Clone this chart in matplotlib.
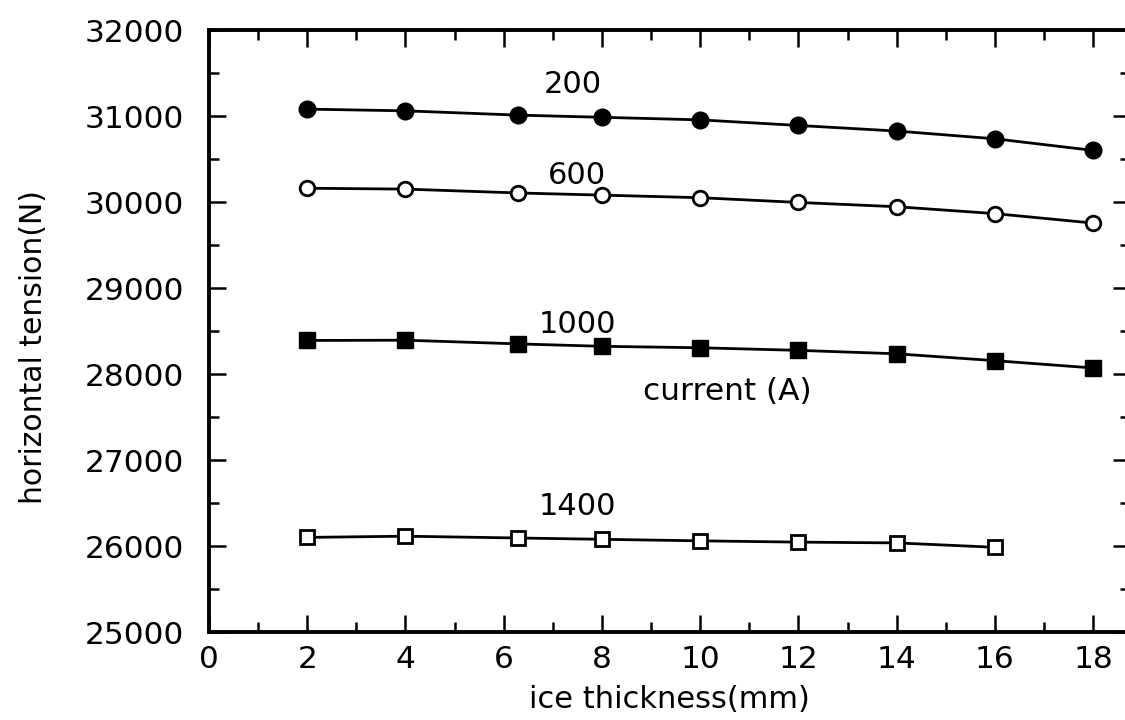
import matplotlib
matplotlib.use("Agg")
import matplotlib.pyplot as plt
from matplotlib.ticker import MultipleLocator

# ice thickness (mm) for each measured point
thickness = [2, 4, 6.3, 8, 10, 12, 14, 16, 18]
thickness_1400 = [2, 4, 6.3, 8, 10, 12, 14, 16]

# horizontal tension (N) for each conductor current
tension_200 = [31080, 31060, 31010, 30985, 30955, 30890, 30825, 30735, 30600]
tension_600 = [30160, 30150, 30105, 30080, 30050, 29995, 29945, 29865, 29755]
tension_1000 = [28390, 28393, 28350, 28322, 28305, 28275, 28235, 28155, 28070]
tension_1400 = [26100, 26114, 26093, 26078, 26060, 26045, 26036, 25985]

current_labels = ["200", "600", "1000", "1400"]
label_pos = [(7.4, 31370), (7.5, 30305), (7.5, 28570), (7.5, 26465)]

plt.rcParams["font.family"] = ["DejaVu Sans"]

fig = plt.figure(figsize=(11.25, 7.2), dpi=100)
ax = fig.add_axes([209 / 1125, 1 - 632 / 720, 921 / 1125, 602 / 720])

lw = 2.0
ax.plot(thickness, tension_200, color="black", lw=lw, marker="o",
        ms=12, mfc="black", mec="black")
ax.plot(thickness, tension_600, color="black", lw=lw, marker="o",
        ms=10.5, mfc="white", mec="black", mew=2.0)
ax.plot(thickness, tension_1000, color="black", lw=lw, marker="s",
        ms=11.5, mfc="black", mec="black")
ax.plot(thickness_1400, tension_1400, color="black", lw=lw, marker="s",
        ms=10.5, mfc="white", mec="black", mew=2.0)

for txt, (x, y) in zip(current_labels, label_pos):
    ax.text(x, y, txt, fontsize=22, ha="center", va="center")
ax.text(10.55, 27800, "current (A)", fontsize=22.5, ha="center", va="center")

ax.set_xlim(0, 18.75)
ax.set_ylim(25000, 32000)
ax.xaxis.set_major_locator(MultipleLocator(2))
ax.xaxis.set_minor_locator(MultipleLocator(1))
ax.yaxis.set_major_locator(MultipleLocator(1000))
ax.yaxis.set_minor_locator(MultipleLocator(500))

ax.tick_params(which="both", direction="in", top=True, right=True,
               width=1.8, labelsize=22.5, colors="black")
ax.tick_params(which="major", length=12)
ax.tick_params(which="minor", length=7)
ax.tick_params(axis="y", which="major", pad=18)
ax.tick_params(axis="x", which="major", pad=9)

for side in ("left", "bottom", "top"):
    ax.spines[side].set_linewidth(2.8)
ax.spines["right"].set_visible(False)

ax.set_xlabel("ice thickness(mm)", fontsize=22, labelpad=8)
ax.set_ylabel("horizontal tension(N)", fontsize=21.5)
ax.yaxis.set_label_coords(-0.175, 0.473)

fig.savefig("out.png", dpi=100)
